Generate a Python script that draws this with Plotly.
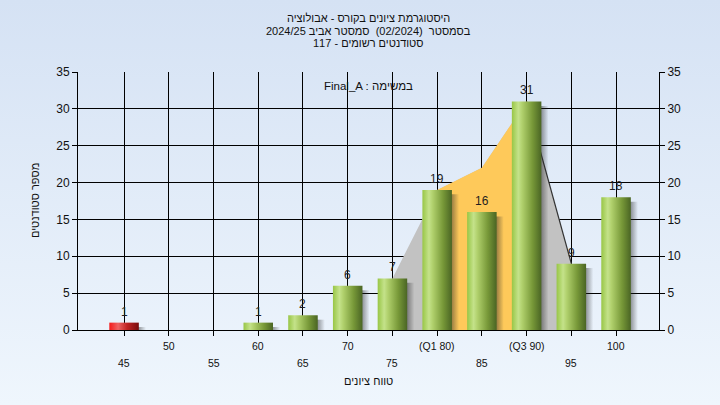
import base64
import plotly.graph_objects as go

# histogram data
categories = [45, 50, 55, 60, 65, 70, 75, 80, 85, 90, 95, 100]
tick_labels = ["45", "50", "55", "60", "65", "70", "75", "(Q1 80)", "85", "(Q3 90)", "95", "100"]
bar_x = [45, 60, 65, 70, 75, 80, 85, 90, 95, 100]
bar_counts = [1, 1, 2, 6, 7, 19, 16, 31, 9, 18]
failing_below = 55

# distribution curve behind the bars
curve_x = [75, 80, 85, 90, 95]
curve_y = [7, 19, 22, 31, 9]
q1, q3 = 80, 90

title_lines = ["היסטוגרמת ציונים בקורס - אבולוציה",
               "בסמסטר  (02/2024)  סמסטר אביב 2024/25",
               "סטודנטים רשומים - 117"]
task_label = "Final_A : במשימה"
x_title = "טווח ציונים"
y_title = "מספר סטודנטים"

FONT = "Liberation Sans, Arial, sans-serif"
half_w = 1.65

green_scale = [[0, "#98c646"], [0.22, "#c4e28a"], [0.35, "#b0d06c"], [0.7, "#779838"], [1, "#4a6524"]]
red_scale = [[0, "#f41a1a"], [0.3, "#ee6464"], [0.6, "#c02424"], [1, "#780c0c"]]

fig = go.Figure()

# curve area: grey outside the quartiles, orange between them
fig.add_trace(go.Scatter(x=curve_x, y=curve_y, mode="lines", fill="tozeroy", fillcolor="#c2c2c2",
                         line=dict(width=0), hoverinfo="skip", showlegend=False))
iq = [i for i, v in enumerate(curve_x) if q1 <= v <= q3]
fig.add_trace(go.Scatter(x=[curve_x[i] for i in iq], y=[curve_y[i] for i in iq], mode="lines",
                         fill="tozeroy", fillcolor="#fec95a", line=dict(width=0),
                         hoverinfo="skip", showlegend=False))
tail = [i for i, v in enumerate(curve_x) if v >= q3]
fig.add_trace(go.Scatter(x=[curve_x[i] for i in tail], y=[curve_y[i] for i in tail], mode="lines",
                         line=dict(color="#333333", width=1.2), hoverinfo="skip", showlegend=False))

# shadows
for x, v in zip(bar_x, bar_counts):
    fig.add_trace(go.Scatter(x=[x - half_w + 0.6, x + half_w + 0.8, x + half_w + 0.8, x - half_w + 0.6, x - half_w + 0.6],
                             y=[0, 0, v - 0.6, v - 0.6, 0], mode="lines", fill="toself",
                             fillgradient=dict(type="horizontal",
                                               colorscale=[[0, "rgba(40,40,40,0.7)"], [0.7, "rgba(40,40,40,0.6)"],
                                                           [1, "rgba(40,40,40,0)"]]),
                             line=dict(width=0), hoverinfo="skip", showlegend=False))

# cylinder-like bars
for x, v in zip(bar_x, bar_counts):
    fig.add_trace(go.Scatter(x=[x - half_w, x + half_w, x + half_w, x - half_w, x - half_w],
                             y=[0, 0, v, v, 0], mode="lines", fill="toself",
                             fillgradient=dict(type="horizontal",
                                               colorscale=red_scale if x < failing_below else green_scale),
                             line=dict(width=0), hoverinfo="skip", showlegend=False))

# keeps the right-hand axis drawn
fig.add_trace(go.Scatter(x=bar_x, y=bar_counts, mode="markers", marker=dict(opacity=0),
                         yaxis="y2", hoverinfo="skip", showlegend=False))

annotations = []
for x, v in zip(bar_x, bar_counts):
    annotations.append(dict(text=str(v), xref="x", yref="y", x=x, y=v, yanchor="middle", yshift=11,
                            showarrow=False, font=dict(family=FONT, size=12, color="#1e1e1e")))
for i, line in enumerate(title_lines):
    annotations.append(dict(text=line, xref="paper", yref="paper", x=0.5, y=1, yanchor="middle",
                            yshift=54 - 12.5 * i, showarrow=False,
                            font=dict(family=FONT, size=11, color="#111111")))
for i, (c, t) in enumerate(zip(categories, tick_labels)):
    annotations.append(dict(text=t, xref="x", yref="paper", x=c, y=0, yanchor="middle",
                            yshift=-33 if i % 2 == 0 else -16, showarrow=False,
                            font=dict(family=FONT, size=10.5, color="#111111")))
annotations.append(dict(text=x_title, xref="paper", yref="paper", x=0.5, y=0, yanchor="middle",
                        yshift=-51, showarrow=False, font=dict(family=FONT, size=11, color="#111111")))
annotations.append(dict(text=y_title, xref="paper", yref="paper", x=0, y=0.5, xanchor="center",
                        xshift=-43, textangle=-90, showarrow=False,
                        font=dict(family=FONT, size=11, color="#111111")))
annotations.append(dict(text=task_label, xref="paper", yref="paper", x=0.5, y=1, yanchor="middle",
                        yshift=-14, showarrow=False, font=dict(family=FONT, size=11.5, color="#111111")))

svg = ('<svg xmlns="http://www.w3.org/2000/svg" width="720" height="405" viewBox="0 0 720 405" '
       'preserveAspectRatio="none"><defs><linearGradient id="g" x1="0" y1="0" x2="0" y2="1">'
       '<stop offset="0" stop-color="#d5e2f4"/><stop offset="1" stop-color="#eff6fd"/>'
       '</linearGradient></defs><rect width="720" height="405" fill="url(#g)"/></svg>')
bg_src = "data:image/svg+xml;base64," + base64.b64encode(svg.encode()).decode()

L, R, T, B = 78, 61, 72, 75
pw, ph = 720 - L - R, 405 - T - B

axis_common = dict(showline=True, linecolor="black", linewidth=1, ticks="outside", ticklen=5,
                   tickcolor="black", zeroline=False)

fig.update_layout(
    width=720, height=405,
    margin=dict(l=L, r=R, t=T, b=B),
    paper_bgcolor="#e3edf8",
    plot_bgcolor="#b4b4b4",
    showlegend=False,
    font=dict(family=FONT, size=12, color="#111111"),
    xaxis=dict(range=[39.85, 104.8], tickvals=categories, showticklabels=False,
               showgrid=True, gridcolor="black", gridwidth=1, **axis_common),
    yaxis=dict(range=[0, 35], dtick=5, showgrid=True, gridcolor="black", gridwidth=1,
               tickfont=dict(size=12), **axis_common),
    yaxis2=dict(range=[0, 35], dtick=5, overlaying="y", side="right", showgrid=False,
                tickfont=dict(size=12), **axis_common),
    annotations=annotations,
    images=[dict(source=bg_src, xref="paper", yref="paper", x=-L / pw, y=1 + T / ph,
                 sizex=720 / pw, sizey=405 / ph, xanchor="left", yanchor="top",
                 sizing="stretch", layer="below")],
)

# drop the default page margin so the fixed-size figure sits at the window origin
fig.write_html("out.html", config={"displayModeBar": False},
               post_script="document.body.style.margin='0';")
